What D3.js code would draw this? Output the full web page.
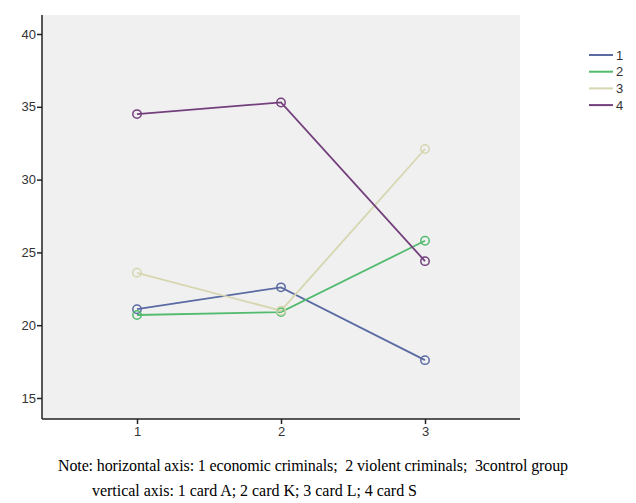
<!DOCTYPE html>
<html><head><meta charset="utf-8">
<script src="https://cdn.jsdelivr.net/npm/d3@7"></script>
<style>body{margin:0;background:#fff;} svg{display:block;}</style>
</head><body>
<svg id="chart" width="636" height="503"></svg>
<script>
const categories = [1, 2, 3];
const seriesNames = ["1", "2", "3", "4"];
const series1 = [21.1, 22.6, 17.6];
const series2 = [20.7, 20.9, 25.8];
const series3 = [23.6, 21.0, 32.1];
const series4 = [34.5, 35.3, 24.4];
const yTicks = [15, 20, 25, 30, 35, 40];
const colors = ["#5a6aa2", "#52bb6e", "#d6d6b0", "#733f7c"];
const noteLines = [
  "Note: horizontal axis: 1 economic criminals;  2 violent criminals;  3control group",
  "vertical axis: 1 card A; 2 card K; 3 card L; 4 card S"
];

const svg = d3.select("#chart");
const plot = {left: 42, top: 15, right: 520, bottom: 419};
const x = d3.scalePoint().domain(categories).range([137, 425]);
const y = d3.scaleLinear().domain([15, 40]).range([398, 34]);

svg.append("rect").attr("x", plot.left).attr("y", plot.top)
  .attr("width", plot.right - plot.left).attr("height", plot.bottom - plot.top)
  .attr("fill", "#f0f0f0");

const yAxis = svg.append("g").attr("transform", `translate(${plot.left},0)`)
  .call(d3.axisLeft(y).tickValues(yTicks).tickSize(5).tickSizeOuter(0).tickFormat(d3.format("d")));
yAxis.select(".domain").remove();
yAxis.append("line").attr("x1", 0).attr("x2", 0).attr("y1", plot.top).attr("y2", plot.bottom)
  .attr("stroke", "#222").attr("stroke-width", 1.5);
yAxis.selectAll(".tick line").attr("stroke", "#222").attr("stroke-width", 1.5);
yAxis.selectAll(".tick text").attr("font-family", "Liberation Sans, Arial, sans-serif")
  .attr("font-size", 13).attr("fill", "#333").attr("x", -6);

const xAxis = svg.append("g").attr("transform", `translate(0,${plot.bottom})`)
  .call(d3.axisBottom(x).tickSize(5).tickSizeOuter(0));
xAxis.select(".domain").remove();
xAxis.append("line").attr("x1", plot.left).attr("x2", plot.right).attr("y1", 0).attr("y2", 0)
  .attr("stroke", "#222").attr("stroke-width", 1.5);
xAxis.selectAll(".tick line").attr("stroke", "#222").attr("stroke-width", 1.5);
xAxis.selectAll(".tick text").attr("font-family", "Liberation Sans, Arial, sans-serif")
  .attr("font-size", 13).attr("fill", "#333").attr("y", 8);

const allSeries = [series1, series2, series3, series4];
const line = d3.line().x((d, i) => x(categories[i])).y(d => y(d));
allSeries.forEach((vals, si) => {
  svg.append("path").datum(vals).attr("d", line).attr("fill", "none")
    .attr("stroke", colors[si]).attr("stroke-width", 1.8);
});
allSeries.forEach((vals, si) => {
  svg.selectAll(null).data(vals).enter().append("circle")
    .attr("cx", (d, i) => x(categories[i])).attr("cy", d => y(d)).attr("r", 4.2)
    .attr("fill", "none").attr("stroke", colors[si]).attr("stroke-width", 1.5);
});

const legend = svg.append("g");
seriesNames.forEach((name, i) => {
  const ly = 55 + i * 16.7;
  legend.append("line").attr("x1", 589).attr("x2", 613).attr("y1", ly).attr("y2", ly)
    .attr("stroke", colors[i]).attr("stroke-width", 2);
  legend.append("text").attr("x", 616).attr("y", ly + 4.5).text(name)
    .attr("font-family", "Liberation Sans, Arial, sans-serif").attr("font-size", 13).attr("fill", "#333");
});

svg.append("text").attr("x", 58).attr("y", 471).text(noteLines[0])
  .style("white-space", "pre").attr("textLength", 510).attr("lengthAdjust", "spacing")
  .attr("font-family", "Liberation Serif, Times New Roman, serif").attr("font-size", 16).attr("fill", "#000");
svg.append("text").attr("x", 92).attr("y", 496).text(noteLines[1])
  .attr("textLength", 325).attr("lengthAdjust", "spacing")
  .attr("font-family", "Liberation Serif, Times New Roman, serif").attr("font-size", 16).attr("fill", "#000");
</script>
</body></html>
